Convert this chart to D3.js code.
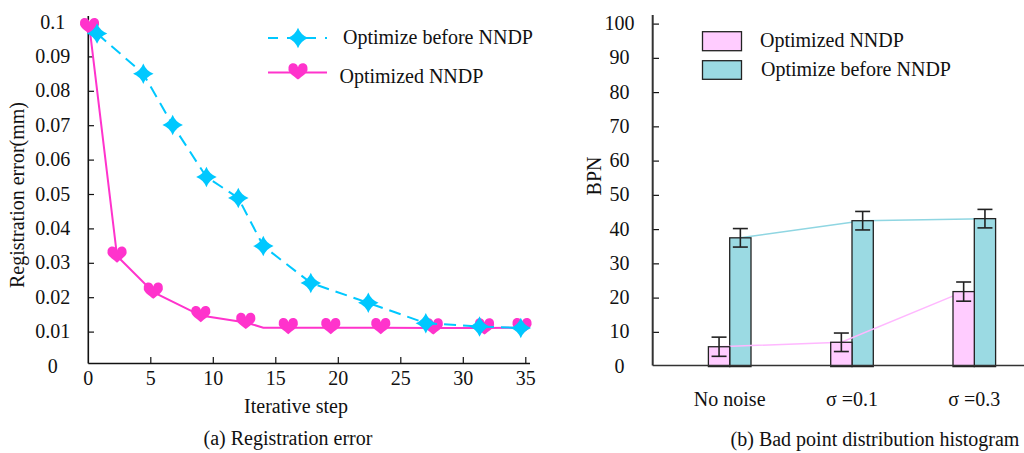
<!DOCTYPE html>
<html>
<head>
<meta charset="utf-8">
<script src="https://cdn.jsdelivr.net/npm/d3@7"></script>
<style>
  body { margin: 0; background: #fff; }
  svg text { font-family: "Liberation Serif", "Times New Roman", serif; fill: #111; }
</style>
</head>
<body>
<svg id="chart" width="1024" height="453"></svg>
<script>
// (a) registration error vs iterative step
var beforeX = [0.7, 4.4, 6.75, 9.45, 12.0, 14.0, 17.8, 22.4, 27.0, 31.3, 34.6];
var beforeY = [0.0968, 0.0851, 0.0702, 0.0551, 0.049, 0.035, 0.0243, 0.0185, 0.0126, 0.0116, 0.0112];
var nndpX = [0.1, 2.3, 5.2, 9.0, 12.6, 14.0, 16.0, 19.4, 23.4, 27.6, 31.7, 34.7];
var nndpY = [0.0985, 0.0321, 0.0216, 0.0148, 0.0128, 0.0113, 0.0113, 0.0113, 0.0113, 0.0112, 0.0112, 0.0113];
var nndpKnee = 5; // line vertex without a marker
var errTicks = [0, 0.01, 0.02, 0.03, 0.04, 0.05, 0.06, 0.07, 0.08, 0.09, 0.1];
var stepTicks = [0, 5, 10, 15, 20, 25, 30, 35];

// (b) bad point distribution histogram
var categories = ["No noise", "σ =0.1", "σ =0.3"];
var nndpBars = [5.8, 7.1, 21.9];
var nndpErr = [2.8, 2.7, 2.8];
var beforeBars = [37.6, 42.6, 43.2];
var beforeErr = [2.7, 2.7, 2.7];
var bpnTicks = [0, 10, 20, 30, 40, 50, 60, 70, 80, 90, 100];

var svg = d3.select("#chart");
var FS = "20px";

var cyan = "#00c8ff", magenta = "#ff33cc";

// custom marker shapes
var star4 = {
  draw: function (ctx, size) {
    var r = Math.sqrt(size), k = r * 0.28;
    ctx.moveTo(0, -r);
    ctx.quadraticCurveTo(k, -k, r, 0);
    ctx.quadraticCurveTo(k, k, 0, r);
    ctx.quadraticCurveTo(-k, k, -r, 0);
    ctx.quadraticCurveTo(-k, -k, 0, -r);
    ctx.closePath();
  }
};
var heart = {
  draw: function (ctx, size) {
    var s = Math.sqrt(size);
    ctx.moveTo(0, 0.8 * s);
    ctx.bezierCurveTo(-0.4 * s, 0.45 * s, -1.1 * s, 0.05 * s, -s, -0.35 * s);
    ctx.bezierCurveTo(-1.05 * s, -1.05 * s, -0.1 * s, -1.1 * s, 0, -0.5 * s);
    ctx.bezierCurveTo(0.1 * s, -1.1 * s, 1.05 * s, -1.05 * s, s, -0.35 * s);
    ctx.bezierCurveTo(1.1 * s, 0.05 * s, 0.4 * s, 0.45 * s, 0, 0.8 * s);
    ctx.closePath();
  }
};
var starSym = d3.symbol().type(star4).size(105);
var heartSym = d3.symbol().type(heart).size(90);

// ---------- left chart ----------
var x1 = d3.scaleLinear().domain([0, 35]).range([88.3, 525.8]);
var y1 = d3.scaleLinear().domain([0, 0.1]).range([366.5, 22.5]);
var left = svg.append("g");

left.append("line").attr("x1", 88.3).attr("x2", 88.3).attr("y1", 16).attr("y2", 363.5)
  .attr("stroke", "#111").attr("stroke-width", 1.6);
left.append("line").attr("x1", 88.3).attr("x2", 530).attr("y1", 363.5).attr("y2", 363.5)
  .attr("stroke", "#111").attr("stroke-width", 1.6);

left.selectAll(".ytick").data(errTicks.filter(function (d) { return d > 0; })).enter()
  .append("line").attr("x1", 88.3).attr("x2", 94)
  .attr("y1", function (d) { return y1(d); }).attr("y2", function (d) { return y1(d); })
  .attr("stroke", "#111").attr("stroke-width", 1.2);
left.selectAll(".ylab").data(errTicks).enter().append("text")
  .attr("x", 52.7).attr("y", function (d) { return y1(d); }).attr("dy", "0.3em")
  .attr("text-anchor", "middle").style("font-size", FS)
  .text(function (d) { return d === 0 ? "0" : d3.format(".2~f")(d); });

left.selectAll(".xtick").data(stepTicks.filter(function (d) { return d > 0; })).enter()
  .append("line").attr("y1", 363.5).attr("y2", 357)
  .attr("x1", function (d) { return x1(d); }).attr("x2", function (d) { return x1(d); })
  .attr("stroke", "#111").attr("stroke-width", 1.2);
left.selectAll(".xlab").data(stepTicks).enter().append("text")
  .attr("x", function (d) { return x1(d); }).attr("y", 385)
  .attr("text-anchor", "middle").style("font-size", FS)
  .text(function (d) { return d; });

left.append("text").attr("x", 296).attr("y", 413).attr("text-anchor", "middle")
  .style("font-size", FS).text("Iterative step");
left.append("text").attr("transform", "translate(24,195) rotate(-90)")
  .attr("text-anchor", "middle").style("font-size", FS).text("Registration error(mm)");
left.append("text").attr("x", 288).attr("y", 445).attr("text-anchor", "middle")
  .style("font-size", FS).text("(a) Registration error");

var line1 = d3.line()
  .x(function (d) { return x1(d[0]); })
  .y(function (d) { return y1(d[1]); });

var beforePts = d3.zip(beforeX, beforeY);
var nndpPts = d3.zip(nndpX, nndpY);

left.append("path").datum(nndpPts).attr("d", line1)
  .attr("fill", "none").attr("stroke", magenta).attr("stroke-width", 2);
left.selectAll(".heart").data(nndpPts.filter(function (d, i) { return i !== nndpKnee; })).enter()
  .append("path").attr("d", heartSym).attr("fill", magenta)
  .attr("transform", function (d) { return "translate(" + x1(d[0]) + "," + (y1(d[1]) - 1) + ")"; });

left.append("path").datum(beforePts).attr("d", line1)
  .attr("fill", "none").attr("stroke", cyan).attr("stroke-width", 2)
  .attr("stroke-dasharray", "12,7");
left.selectAll(".star").data(beforePts).enter()
  .append("path").attr("d", starSym).attr("fill", cyan)
  .attr("transform", function (d) { return "translate(" + x1(d[0]) + "," + y1(d[1]) + ")"; });

// left legend
var lg = left.append("g");
lg.append("line").attr("x1", 268).attr("x2", 327).attr("y1", 38).attr("y2", 38)
  .attr("stroke", cyan).attr("stroke-width", 2).attr("stroke-dasharray", "10,9");
lg.append("path").attr("d", starSym).attr("fill", cyan).attr("transform", "translate(298,38)");
lg.append("text").attr("x", 343).attr("y", 37.5).attr("dy", "0.32em").style("font-size", FS)
  .text("Optimize before NNDP");
lg.append("line").attr("x1", 268).attr("x2", 327).attr("y1", 72.5).attr("y2", 72.5)
  .attr("stroke", magenta).attr("stroke-width", 2);
lg.append("path").attr("d", heartSym).attr("fill", magenta).attr("transform", "translate(298,72)");
lg.append("text").attr("x", 339.5).attr("y", 76.5).attr("dy", "0.32em").style("font-size", FS)
  .text("Optimized NNDP");

// ---------- right chart ----------
var x2 = d3.scalePoint().domain(categories).range([729.7, 974.3]);
var y2 = d3.scaleLinear().domain([0, 100]).range([366.6, 24.1]);
var bw = 21.3;
var pinkFill = "#ffccff", blueFill = "#9bdae3";
var right = svg.append("g");

right.selectAll(".ytick").data(bpnTicks.filter(function (d) { return d > 0; })).enter()
  .append("line").attr("x1", 652.7).attr("x2", 659)
  .attr("y1", function (d) { return y2(d); }).attr("y2", function (d) { return y2(d); })
  .attr("stroke", "#111").attr("stroke-width", 1.2);
right.selectAll(".ylab").data(bpnTicks).enter().append("text")
  .attr("x", 619.5).attr("y", function (d) { return y2(d); }).attr("dy", "0.3em")
  .attr("text-anchor", "middle").style("font-size", FS)
  .text(function (d) { return d; });
right.selectAll(".xlab").data(categories).enter().append("text")
  .attr("x", function (d) { return x2(d); }).attr("y", 406)
  .attr("text-anchor", "middle").style("font-size", FS)
  .text(function (d) { return d; });
right.append("text").attr("transform", "translate(601,176) rotate(-90)")
  .attr("text-anchor", "middle").style("font-size", FS).text("BPN");
right.append("text").attr("x", 875).attr("y", 446).attr("text-anchor", "middle")
  .style("font-size", FS).text("(b) Bad point distribution histogram");

// trend lines through bar tops (blue behind blue bars, pink above blue bars)
var trend = d3.line().x(function (d) { return d[0]; }).y(function (d) { return d[1]; });

right.append("path")
  .datum(categories.map(function (c, i) { return [x2(c) + bw / 2, y2(beforeBars[i])]; }))
  .attr("d", trend).attr("fill", "none").attr("stroke", "#8fd6e2").attr("stroke-width", 1.5);

right.selectAll(".bbar").data(beforeBars).enter().append("rect")
  .attr("x", function (d, i) { return x2(categories[i]); })
  .attr("y", function (d) { return y2(d); })
  .attr("width", bw).attr("height", function (d) { return y2(0) - y2(d); })
  .attr("fill", blueFill).attr("stroke", "#222").attr("stroke-width", 1.3);

right.append("path")
  .datum(categories.map(function (c, i) { return [x2(c) - bw / 2, y2(nndpBars[i])]; }))
  .attr("d", trend).attr("fill", "none").attr("stroke", "#ffb8ff").attr("stroke-width", 1.5);

right.selectAll(".pbar").data(nndpBars).enter().append("rect")
  .attr("x", function (d, i) { return x2(categories[i]) - bw; })
  .attr("y", function (d) { return y2(d); })
  .attr("width", bw).attr("height", function (d) { return y2(0) - y2(d); })
  .attr("fill", pinkFill).attr("stroke", "#222").attr("stroke-width", 1.3);

function errorBars(vals, errs, offset) {
  var g = right.append("g").attr("stroke", "#222").attr("stroke-width", 1.6);
  vals.forEach(function (v, i) {
    var cx = x2(categories[i]) + offset;
    var hi = y2(v + errs[i]), lo = y2(v - errs[i]);
    g.append("line").attr("x1", cx).attr("x2", cx).attr("y1", hi).attr("y2", lo);
    g.append("line").attr("x1", cx - 7.5).attr("x2", cx + 7.5).attr("y1", hi).attr("y2", hi);
    g.append("line").attr("x1", cx - 7.5).attr("x2", cx + 7.5).attr("y1", lo).attr("y2", lo);
  });
}
errorBars(nndpBars, nndpErr, -bw / 2);
errorBars(beforeBars, beforeErr, bw / 2);

right.append("line").attr("x1", 652.7).attr("x2", 652.7).attr("y1", 15).attr("y2", 365.5)
  .attr("stroke", "#333").attr("stroke-width", 2);
right.append("line").attr("x1", 652.7).attr("x2", 1024).attr("y1", 365.5).attr("y2", 365.5)
  .attr("stroke", "#333").attr("stroke-width", 1.6);

// right legend
var rl = right.append("g");
rl.append("rect").attr("x", 702.5).attr("y", 31.7).attr("width", 39).attr("height", 19)
  .attr("fill", pinkFill).attr("stroke", "#222").attr("stroke-width", 1.3);
rl.append("rect").attr("x", 702.5).attr("y", 60.7).attr("width", 39).attr("height", 18.6)
  .attr("fill", blueFill).attr("stroke", "#222").attr("stroke-width", 1.3);
rl.append("text").attr("x", 760).attr("y", 40.7).attr("dy", "0.32em").style("font-size", FS)
  .text("Optimized NNDP");
rl.append("text").attr("x", 761).attr("y", 70).attr("dy", "0.32em").style("font-size", FS)
  .text("Optimize before NNDP");
</script>
</body>
</html>
